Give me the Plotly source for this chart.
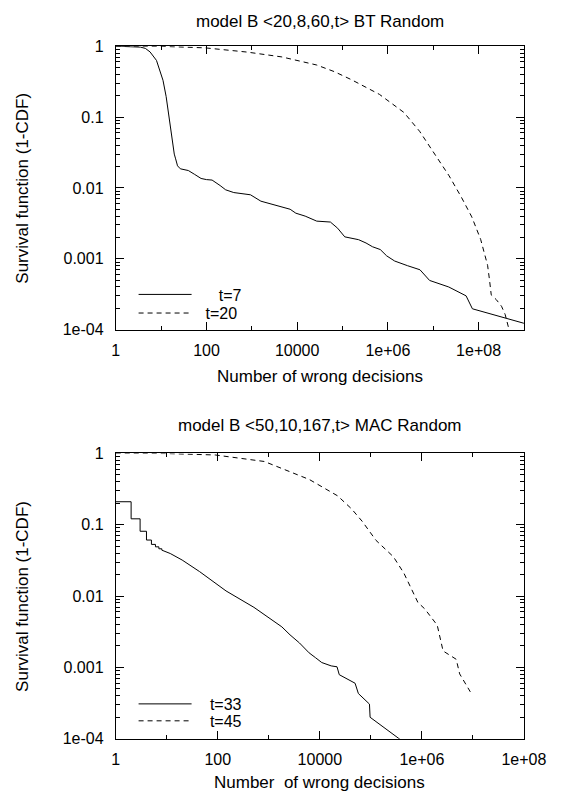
import plotly.graph_objects as go

# ---------------- data ----------------
top_title = "model B <20,8,60,t> BT Random"
bot_title = "model B <50,10,167,t> MAC Random"
x_title_top = "Number of wrong decisions"
x_title_bot = "Number\u00a0 of wrong decisions"
y_title = "Survival function (1-CDF)"

NB = "\u00a0"
top_names = [NB * 5 + "t=7", NB * 2 + "t=20"]
bot_names = [NB * 3 + "t=33", NB * 3 + "t=45"]

top_t7_x = [1, 2, 3, 3.5, 4.5, 5.7, 7.9, 9.3, 11, 12.9, 14, 15.1, 16.5, 17.8, 19.5,
            20.9, 23, 26.6, 32, 39.8, 55, 76, 100, 133, 200, 265, 400, 548, 933,
            1585, 2500, 4600, 7000, 9330, 15000, 27000, 54000, 78000, 112000,
            226000, 330000, 457000, 680000, 940000, 1.41e6, 2.7e6, 5.1e6, 8.3e6,
            2.2e7, 5.3e7, 7.3e7, 1e9]
top_t7_y = [1.0, 0.995, 0.985, 0.97, 0.93, 0.83, 0.63, 0.46, 0.33, 0.195, 0.135,
            0.083, 0.055, 0.0437, 0.03, 0.0257, 0.0205, 0.0186, 0.018, 0.0176,
            0.0155, 0.0136, 0.0131, 0.0129, 0.0108, 0.0094, 0.0086, 0.0083, 0.0080,
            0.0065, 0.0060, 0.0055, 0.0050, 0.0044, 0.0040, 0.0034, 0.0033, 0.0027,
            0.00204, 0.00186, 0.00167, 0.00148, 0.00135, 0.0011, 0.00093, 0.0008,
            0.0007, 0.000495, 0.0004, 0.0003, 0.000197, 0.000123]

top_t20_x = [1, 10, 93, 780, 4600, 27000, 65500, 158000, 650000, 2.26e6, 5.0e6,
             1.0e7, 2.24e7, 4.17e7, 7.08e7, 1.11e8, 1.58e8, 1.74e8, 1.9e8,
             2.46e8, 3.2e8, 3.85e8, 4.7e8]
top_t20_y = [1.0, 0.995, 0.947, 0.826, 0.705, 0.542, 0.438, 0.336, 0.209, 0.116,
             0.063, 0.0316, 0.0148, 0.0074, 0.0039, 0.00188, 0.00081,
             0.000505, 0.00031, 0.000265, 0.000214, 0.000164, 0.0001]

bot_t33_step_x = [1, 2, 3, 4, 5, 6, 7, 8]
bot_t33_step_y = [0.21, 0.121, 0.081, 0.061, 0.053, 0.049, 0.046, 0.044]
bot_t33_x = [8, 11.7, 20, 44, 145, 272, 510, 1800, 2600, 3990, 6150, 8200, 10900,
             16700, 21700, 24000, 49000, 56900, 93800, 96600, 367000, 420000]
bot_t33_y = [0.044, 0.0395, 0.032, 0.022, 0.0118, 0.00906, 0.00695, 0.0037,
             0.00286, 0.0022, 0.0016, 0.00137, 0.00117, 0.00105, 0.00102, 0.00079,
             0.0006, 0.00043, 0.000306, 0.0002, 0.0001, 0.000092]

bot_t45_x = [1, 10, 89, 818, 6240, 22300, 41800, 68000, 126000, 276000, 443000,
             834000, 1.14e6, 2.0e6, 2.6e6, 4.7e6, 5.5e6, 8.9e6]
bot_t45_y = [1.0, 0.995, 0.95, 0.77, 0.43, 0.254, 0.167, 0.111, 0.0604, 0.0356,
             0.021, 0.00815, 0.0066, 0.0039, 0.0017, 0.0013, 0.00081, 0.000454]

x_tickvals = [1, 100, 1e4, 1e6, 1e8]
x_ticktext = ["1", "100", "10000", "1e+06", "1e+08"]
x_minor = [10, 1e3, 1e5, 1e7]
y_tickvals = [1, 0.1, 0.01, 0.001, 1e-4]
y_ticktext = ["1", "0.1", "0.01", "0.001", "1e-04"]
y_minor = [k * 10.0 ** e for e in (-4, -3, -2, -1) for k in range(2, 10)]

# ---------------- figure ----------------
W, H = 572, 805
FONT = "Liberation Sans, Arial, Helvetica, sans-serif"
TICKF = dict(family=FONT, size=16, color="black")
TITLEF = dict(family=FONT, size=17, color="black")

solid = dict(color="black", width=1)
dashed = dict(color="black", width=1, dash="5px,4px")

fig = go.Figure()
fig.add_trace(go.Scatter(x=top_t7_x, y=top_t7_y, mode="lines", line=solid,
                         name=top_names[0], xaxis="x", yaxis="y", legend="legend"))
fig.add_trace(go.Scatter(x=top_t20_x, y=top_t20_y, mode="lines", line=dashed,
                         name=top_names[1], xaxis="x", yaxis="y", legend="legend2"))
fig.add_trace(go.Scatter(x=bot_t33_step_x, y=bot_t33_step_y, mode="lines",
                         line=dict(solid, shape="hv"), name=bot_names[0],
                         legendgroup="t33", showlegend=False, xaxis="x2", yaxis="y2"))
fig.add_trace(go.Scatter(x=bot_t33_x, y=bot_t33_y, mode="lines", line=solid,
                         name=bot_names[0], legendgroup="t33", xaxis="x2", yaxis="y2",
                         legend="legend3"))
fig.add_trace(go.Scatter(x=bot_t45_x, y=bot_t45_y, mode="lines", line=dashed,
                         name=bot_names[1], xaxis="x2", yaxis="y2", legend="legend4"))


def px_x(p):
    return p / W


def px_y(p):
    return 1 - p / H


xdom = [px_x(117.3), px_x(545.7)]
top_dom = [px_y(328.6), px_y(39)]
bot_dom = [px_y(746.5), px_y(455)]

common = dict(type="log", showline=True, linecolor="black", linewidth=1,
              mirror="ticks", ticks="inside", ticklen=8, tickwidth=1,
              tickcolor="black", showgrid=False, zeroline=False, tickfont=TICKF)

xaxis_common = dict(common, tickvals=x_tickvals, ticktext=x_ticktext,
                    ticklabelstandoff=6,
                    minor=dict(tickvals=x_minor, ticks="inside", ticklen=4,
                               tickwidth=1, tickcolor="black", showgrid=False))
yaxis_common = dict(common, tickvals=y_tickvals, ticktext=y_ticktext,
                    ticklabelstandoff=8,
                    minor=dict(tickvals=y_minor, ticks="inside", ticklen=4,
                               tickwidth=1, tickcolor="black", showgrid=False))

leg_common = dict(font=dict(family=FONT, size=16, color="black"),
                  bgcolor="rgba(0,0,0,0)", borderwidth=0, xanchor="left",
                  yanchor="middle", tracegroupgap=0, itemwidth=53)

fig.update_layout(
    width=W, height=H,
    margin=dict(l=0, r=0, t=0, b=0),
    paper_bgcolor="white", plot_bgcolor="white",
    xaxis=dict(xaxis_common, domain=xdom, range=[0, 9], anchor="y"),
    yaxis=dict(yaxis_common, domain=top_dom, range=[-4, 0], anchor="x"),
    xaxis2=dict(xaxis_common, domain=xdom, range=[0, 8], anchor="y2"),
    yaxis2=dict(yaxis_common, domain=bot_dom, range=[-4, 0], anchor="x2"),
    legend=dict(leg_common, x=px_x(136), y=px_y(292.7)),
    legend2=dict(leg_common, x=px_x(136), y=px_y(311.7)),
    legend3=dict(leg_common, x=px_x(136), y=px_y(711)),
    legend4=dict(leg_common, x=px_x(136), y=px_y(728.3)),
    showlegend=True,
)

ann = [
    (top_title, 331.5, 14, 0),
    (x_title_top, 331.5, 376, 0),
    (y_title, 19.5, 184, -90),
    (bot_title, 331.5, 427, 0),
    (x_title_bot, 331.5, 791, 0),
    (y_title, 19.5, 601, -90),
]
for text, ax, ay, ang in ann:
    fig.add_annotation(text=text, x=px_x(ax), y=px_y(ay), xref="paper", yref="paper",
                       showarrow=False, xanchor="center", yanchor="middle",
                       textangle=ang, font=TITLEF)

fig.write_html("out.html", config={"displayModeBar": False},
               post_script="document.body.style.margin='0';"
                           "document.body.style.overflow='hidden';")
